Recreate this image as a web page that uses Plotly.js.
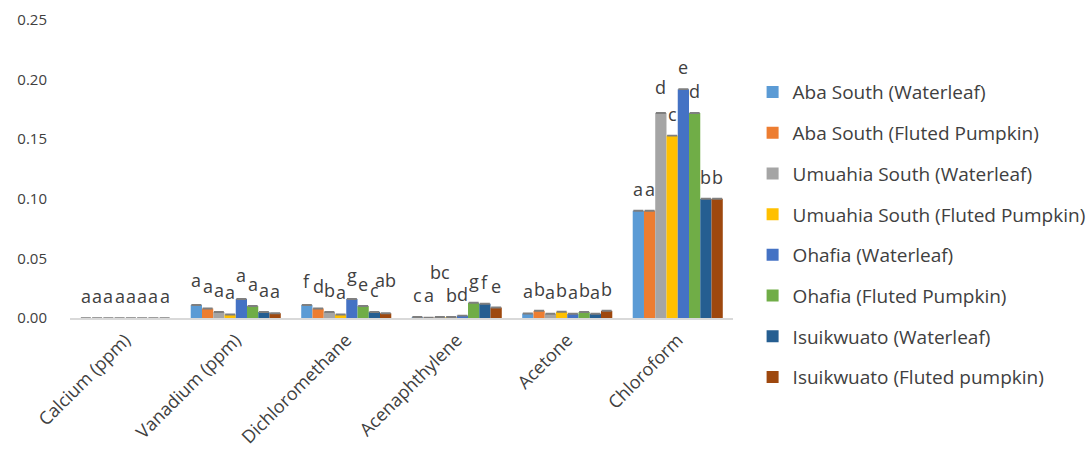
<!DOCTYPE html>
<html>
<head>
<meta charset="utf-8">
<script src="https://cdn.plot.ly/plotly-3.0.1.min.js"></script>
<style>html,body{margin:0;padding:0;background:#fff;}#chart{width:1086px;height:452px;}</style>
</head>
<body>
<div id="chart"></div>
<script>
const categories = ["Calcium (ppm)", "Vanadium (ppm)", "Dichloromethane", "Acenaphthylene", "Acetone", "Chloroform"];
const seriesNames = ["Aba South (Waterleaf)", "Aba South (Fluted Pumpkin)", "Umuahia South (Waterleaf)", "Umuahia South (Fluted Pumpkin)", "Ohafia (Waterleaf)", "Ohafia (Fluted Pumpkin)", "Isuikwuato (Waterleaf)", "Isuikwuato (Fluted pumpkin)"];
const abaSouthWaterleaf      = [0, 0.011, 0.011, 0.0008, 0.0038, 0.090];
const abaSouthFluted         = [0, 0.008, 0.008, 0.0003, 0.0060, 0.090];
const umuahiaSouthWaterleaf  = [0, 0.005, 0.005, 0.0008, 0.0035, 0.172];
const umuahiaSouthFluted     = [0, 0.003, 0.003, 0.0008, 0.0052, 0.153];
const ohafiaWaterleaf        = [0, 0.016, 0.016, 0.0020, 0.0035, 0.192];
const ohafiaFluted           = [0, 0.010, 0.010, 0.0128, 0.0050, 0.172];
const isuikwuatoWaterleaf    = [0, 0.005, 0.005, 0.0120, 0.0035, 0.100];
const isuikwuatoFluted       = [0, 0.004, 0.004, 0.0088, 0.0060, 0.100];
const labelsAbaSouthWaterleaf     = ["a", "a", "f", "c", "a", "a"];
const labelsAbaSouthFluted        = ["a", "a", "d", "a", "b", "a"];
const labelsUmuahiaSouthWaterleaf = ["a", "a", "b", "bc", "a", "d"];
const labelsUmuahiaSouthFluted    = ["a", "a", "a", "b", "b", "c"];
const labelsOhafiaWaterleaf       = ["a", "a", "g", "d", "a", "e"];
const labelsOhafiaFluted          = ["a", "a", "e", "g", "b", "d"];
const labelsIsuikwuatoWaterleaf   = ["a", "a", "c", "f", "a", "b"];
const labelsIsuikwuatoFluted      = ["a", "a", "ab", "e", "b", "b"];
const yTickValues = [0, 0.05, 0.10, 0.15, 0.20, 0.25];
const yTickLabels = ["0.00", "0.05", "0.10", "0.15", "0.20", "0.25"];

const values = [abaSouthWaterleaf, abaSouthFluted, umuahiaSouthWaterleaf, umuahiaSouthFluted, ohafiaWaterleaf, ohafiaFluted, isuikwuatoWaterleaf, isuikwuatoFluted];
const labels = [labelsAbaSouthWaterleaf, labelsAbaSouthFluted, labelsUmuahiaSouthWaterleaf, labelsUmuahiaSouthFluted, labelsOhafiaWaterleaf, labelsOhafiaFluted, labelsIsuikwuatoWaterleaf, labelsIsuikwuatoFluted];
const colors = ["#5B9BD5", "#ED7D31", "#A5A5A5", "#FFC000", "#4472C4", "#70AD47", "#255E91", "#9E480E"];
const FONT = "Open Sans, Liberation Sans, sans-serif";

// layout geometry (style)
const M = {l: 70, r: 353, t: 20, b: 134};
const W = 1086, H = 452, BARGAP = 0.185;
const nS = values.length;
const catPx = (W - M.l - M.r) / categories.length;
const barPx = catPx * (1 - BARGAP) / nS;
// extra vertical lift (px) for a few labels ("series,category"), as placed in the original to avoid overlap
const labelLift = {"2,3": 23, "7,2": 11, "4,2": 2, "0,2": 2, "2,5": 4, "0,1": 3, "4,1": 2, "1,3": 1};

const traces = values.map((v, i) => ({
  type: "bar",
  name: seriesNames[i],
  x: categories,
  y: v,
  marker: {color: colors[i], line: {width: 0}},
  error_y: {type: "data", array: v.map(d => d > 0 ? 0.0002 : null), symmetric: true, visible: true, width: 5, thickness: 1.5, color: "#7f7f7f"},
  legendgroup: "g" + i,
  hoverinfo: "skip"
}));

const annotations = [];
values.forEach((v, i) => {
  v.forEach((val, j) => {
    annotations.push({
      x: categories[j], y: val, xref: "x", yref: "y",
      text: labels[i][j], showarrow: false,
      xanchor: "center", yanchor: "bottom",
      xshift: (i - (nS - 1) / 2) * barPx,
      yshift: 8 + (labelLift[i + "," + j] || 0),
      font: {family: FONT, size: 18, color: "#404040"}
    });
  });
});

const layout = {
  width: W, height: H,
  margin: Object.assign({autoexpand: false}, M),
  paper_bgcolor: "#ffffff", plot_bgcolor: "#ffffff",
  barmode: "group", bargap: BARGAP, bargroupgap: 0,
  font: {family: FONT, size: 15, color: "#404040"},
  showlegend: true,
  annotations: annotations,
  legend: {xref: "container", yref: "container", x: 0.693, xanchor: "left", y: 0.838, yanchor: "top",
           traceorder: "grouped", tracegroupgap: 13,
           maxheight: 452, font: {family: FONT, size: 19, color: "#404040"}, itemwidth: 30},
  xaxis: {type: "category", tickangle: -45, showgrid: false, showline: true, linecolor: "#d9d9d9", linewidth: 1.5,
          ticks: "", tickfont: {family: FONT, size: 18, color: "#404040"}, zeroline: false, ticklabelstandoff: 3, automargin: false},
  yaxis: {range: [0, 0.25], tickvals: yTickValues, ticktext: yTickLabels, showgrid: false, zeroline: false,
          showline: false, ticks: "", tickfont: {family: FONT, size: 15, color: "#404040"}, ticklabelstandoff: 22, automargin: false}
};

Plotly.newPlot("chart", traces, layout, {displayModeBar: false, staticPlot: true});
</script>
</body>
</html>
